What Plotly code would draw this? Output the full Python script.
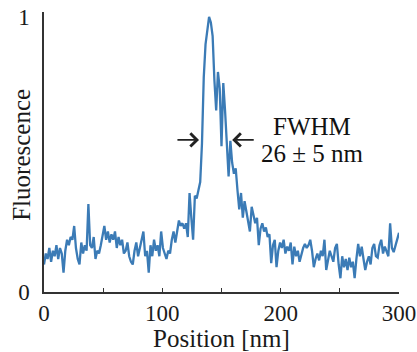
import plotly.graph_objects as go

# Fluorescence profile, sampled every 1.5 nm from 0 to 300 nm
step_nm = 1.5
fluorescence = [
    0.10, 0.14, 0.12, 0.16, 0.11, 0.15, 0.13, 0.17, 0.12, 0.16,
    0.14, 0.07, 0.15, 0.19, 0.17, 0.20, 0.19, 0.24, 0.16, 0.12,
    0.10, 0.18, 0.14, 0.17, 0.15, 0.32, 0.17, 0.16, 0.20, 0.12,
    0.15, 0.14, 0.17, 0.20, 0.24, 0.19, 0.22, 0.18, 0.21, 0.19,
    0.22, 0.16, 0.20, 0.17, 0.19, 0.14, 0.15, 0.18, 0.13, 0.11,
    0.10, 0.15, 0.18, 0.13, 0.16, 0.19, 0.22, 0.13, 0.15, 0.07,
    0.17, 0.13, 0.19, 0.15, 0.17, 0.13, 0.22, 0.16, 0.14, 0.12,
    0.15, 0.14, 0.19, 0.22, 0.18, 0.23, 0.26, 0.24, 0.25, 0.23,
    0.25, 0.20, 0.36, 0.27, 0.19, 0.35, 0.34, 0.37, 0.40, 0.54,
    0.78, 0.90, 0.95, 1.00, 0.98, 0.93, 0.77, 0.66, 0.80, 0.74,
    0.53, 0.76, 0.66, 0.55, 0.42, 0.55, 0.47, 0.43, 0.45, 0.37,
    0.30, 0.36, 0.27, 0.33, 0.29, 0.26, 0.22, 0.31, 0.28, 0.25,
    0.27, 0.17, 0.23, 0.25, 0.22, 0.235, 0.20, 0.21, 0.105, 0.17,
    0.19, 0.09, 0.15, 0.18, 0.16, 0.19, 0.14, 0.165, 0.15, 0.18,
    0.10, 0.165, 0.13, 0.15, 0.11, 0.14, 0.16, 0.175, 0.16, 0.17,
    0.19, 0.15, 0.09, 0.12, 0.14, 0.115, 0.15, 0.13, 0.19, 0.08,
    0.12, 0.15, 0.13, 0.11, 0.16, 0.175, 0.10, 0.05, 0.13, 0.09,
    0.12, 0.08, 0.125, 0.09, 0.11, 0.05, 0.12, 0.175, 0.13, 0.165,
    0.12, 0.08, 0.11, 0.13, 0.10, 0.16, 0.175, 0.13, 0.125, 0.17,
    0.19, 0.14, 0.165, 0.15, 0.13, 0.25, 0.16, 0.145, 0.17, 0.19,
    0.215,
]
position = [i * step_nm for i in range(len(fluorescence))]

x_ticks = [0, 100, 200, 300]
y_ticks = [0, 1]
x_title = "Position [nm]"
y_title = "Fluorescence"
annotation_lines = ["FWHM", "26 ± 5 nm"]
# FWHM arrows: tails and heads (nm) at the half-maximum level
fwhm_left_tail, fwhm_left_head = 111.5, 131.0
fwhm_right_tail, fwhm_right_head = 178.5, 159.0
fwhm_level = 0.553

FONT = "Liberation Serif"
LINE = "#3b7bb6"
AX = "#333333"

fig = go.Figure()
fig.add_trace(go.Scatter(
    x=position, y=fluorescence, mode="lines",
    line=dict(color=LINE, width=2.3), hoverinfo="skip", showlegend=False,
))

fig.update_layout(
    width=417, height=352,
    margin=dict(l=44, r=18, t=12, b=60),
    paper_bgcolor="white", plot_bgcolor="white",
    font=dict(family=FONT, size=22, color="#1a1a1a"),
    showlegend=False,
    xaxis=dict(
        range=[0, 300], tickvals=x_ticks, ticktext=[str(v) for v in x_ticks],
        showgrid=False, zeroline=False, showline=True, linecolor=AX, linewidth=1.5,
        ticks="inside", ticklen=4, tickcolor=AX, tickwidth=1,
        minor=dict(dtick=50, tick0=0, ticks="inside", ticklen=4, tickcolor=AX),
        title=dict(text=x_title, font=dict(size=25, family=FONT), standoff=2),
        tickfont=dict(size=23, family=FONT), automargin=False,
    ),
    yaxis=dict(
        range=[0, 1.018], tickvals=y_ticks, ticktext=[str(v) for v in y_ticks],
        showgrid=False, zeroline=False, showline=True, linecolor=AX, linewidth=1.5,
        ticks="", ticklabelstandoff=8,
        tickfont=dict(size=23, family=FONT), automargin=False,
    ),
)

# y-axis title placed as rotated text, closer to the axis than plotly's default
fig.add_annotation(
    xref="paper", yref="paper", x=-0.062, y=0.49, text=y_title, textangle=-90,
    showarrow=False, xanchor="center", yanchor="middle",
    font=dict(size=25, family=FONT, color="#1a1a1a"),
)

for tail, head in [(fwhm_left_tail, fwhm_left_head), (fwhm_right_tail, fwhm_right_head)]:
    fig.add_annotation(
        x=head, y=fwhm_level, ax=tail, ay=fwhm_level, axref="x", ayref="y",
        text="", showarrow=True, arrowhead=4, arrowsize=1.6, arrowwidth=1.6,
        arrowcolor="#222222",
    )

fig.add_annotation(x=226.5, y=0.60, text=annotation_lines[0], showarrow=False,
                   xanchor="center", yanchor="middle", font=dict(size=25, family=FONT, color="#111"))
fig.add_annotation(x=226.5, y=0.505, text=annotation_lines[1], showarrow=False,
                   xanchor="center", yanchor="middle", font=dict(size=25, family=FONT, color="#111"))

fig.write_html(
    "out.html",
    config={"displayModeBar": False},
    post_script="document.body.style.margin='0';document.body.style.overflow='hidden';",
)
